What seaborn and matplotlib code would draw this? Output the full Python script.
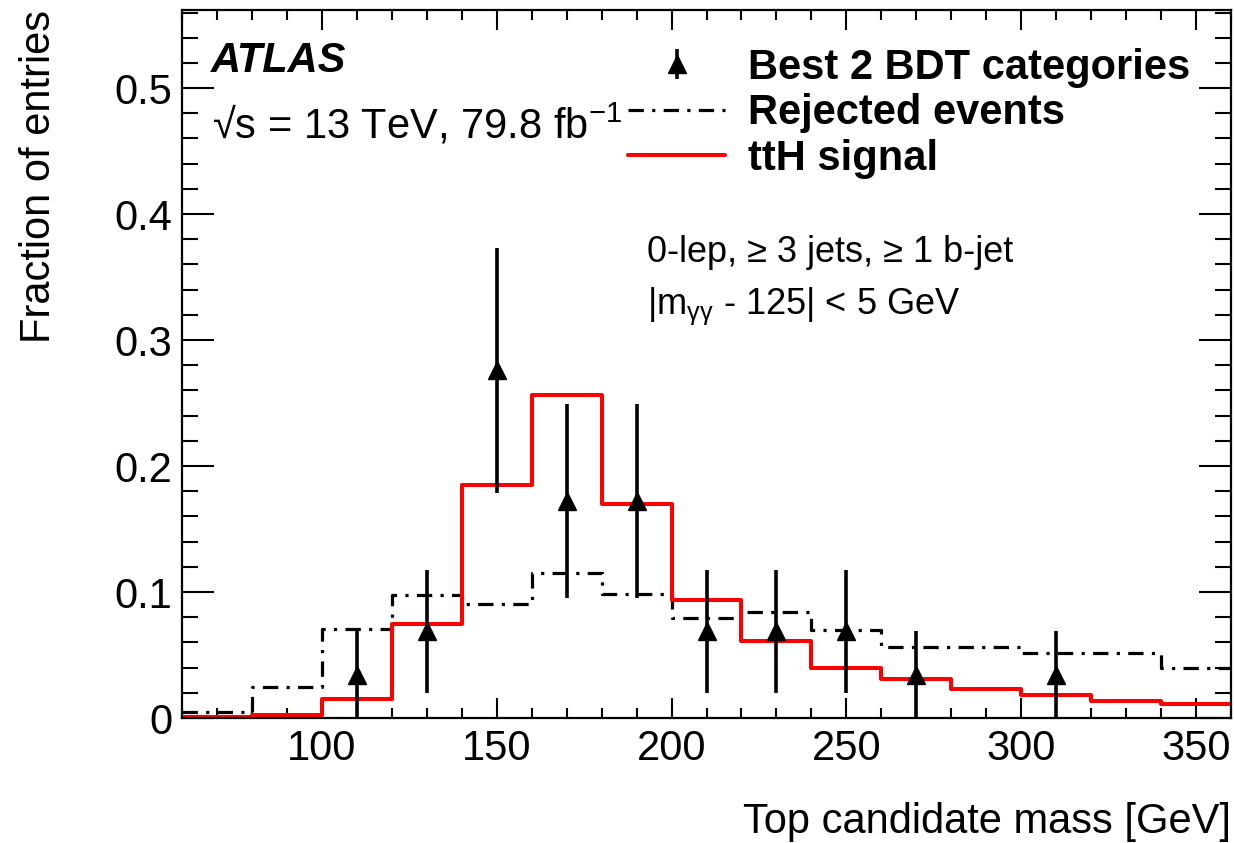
import numpy as np
import pandas as pd
import matplotlib
matplotlib.use("Agg")
import matplotlib.pyplot as plt
from matplotlib.ticker import MultipleLocator, FuncFormatter
from matplotlib.legend_handler import HandlerErrorbar
from matplotlib.container import ErrorbarContainer
import seaborn as sns

# Binning of the top-candidate mass (GeV)
bin_edges = [60, 80, 100, 120, 140, 160, 180, 200, 220, 240, 260, 280, 300, 320, 340, 360]
bin_centers = [70, 90, 110, 130, 150, 170, 190, 210, 230, 250, 270, 290, 310, 330, 350]

# Normalised distributions (fraction of entries per bin)
signal_frac = [0.0005, 0.002, 0.015, 0.075, 0.185, 0.256, 0.170, 0.094,
               0.061, 0.040, 0.031, 0.023, 0.018, 0.0133, 0.011]
rejected_frac = [0.005, 0.025, 0.071, 0.098, 0.0905, 0.115, 0.0987, 0.079,
                 0.084, 0.070, 0.056, 0.056, 0.0515, 0.0515, 0.040]

# Selected events in the best two BDT categories
data_mass = [110, 130, 150, 170, 190, 210, 230, 250, 270, 310]
data_counts = [1, 2, 8, 5, 5, 2, 2, 2, 1, 1]
data_total = 29

data_frac = np.array(data_counts) / data_total
data_err = np.sqrt(np.array(data_counts)) / data_total

sns.set_theme(style="ticks")
plt.rcParams["font.family"] = ["Liberation Sans", "DejaVu Sans"]
plt.rcParams["mathtext.fontset"] = "custom"
plt.rcParams["mathtext.rm"] = "Liberation Sans"
plt.rcParams["mathtext.it"] = "Liberation Sans:italic"
plt.rcParams["mathtext.bf"] = "Liberation Sans:bold"
for key in ["text.color", "axes.labelcolor", "xtick.color", "ytick.color", "axes.edgecolor"]:
    plt.rcParams[key] = "black"

fig = plt.figure(figsize=(12.34, 8.43), dpi=100)
ax = fig.add_axes([182 / 1234, 125 / 843, 1049 / 1234, 708 / 843])

hist_df = pd.DataFrame({"mass": bin_centers, "signal": signal_frac, "rejected": rejected_frac})

n0 = len(ax.lines)
sns.histplot(data=hist_df, x="mass", weights="rejected", bins=bin_edges,
             element="step", fill=False, color="black", linewidth=2.3, ax=ax)
rej_line = ax.lines[n0]
rej_line.set_linestyle((0, (4.8, 2.6, 1.0, 2.6)))
rej_line.set_label("Rejected events")

n1 = len(ax.lines)
sns.histplot(data=hist_df, x="mass", weights="signal", bins=bin_edges,
             element="step", fill=False, color="#ff0000", linewidth=2.9, ax=ax)
sig_line = ax.lines[n1]
sig_line.set_label("ttH signal")

eb = ax.errorbar(data_mass, data_frac, yerr=data_err, fmt="^", color="black",
                 ms=12.7, elinewidth=2.6, capsize=0, zorder=5,
                 label="Best 2 BDT categories")

ax.set_xlim(60, 360)
ax.set_ylim(0, 0.562)

ax.xaxis.set_major_locator(MultipleLocator(50))
ax.xaxis.set_minor_locator(MultipleLocator(10))
ax.yaxis.set_major_locator(MultipleLocator(0.1))
ax.yaxis.set_minor_locator(MultipleLocator(0.02))
ax.xaxis.set_major_formatter(FuncFormatter(lambda v, p: f"{v:g}"))
ax.yaxis.set_major_formatter(FuncFormatter(lambda v, p: f"{v:g}"))

ax.tick_params(which="both", direction="in", top=True, right=True, width=1.5,
               labelsize=30)
ax.tick_params(axis="x", which="major", length=14.5, pad=8)
ax.tick_params(axis="x", which="minor", length=7.2)
ax.tick_params(axis="y", which="major", length=23, pad=7)
ax.tick_params(axis="y", which="minor", length=11.5)
for sp in ax.spines.values():
    sp.set_linewidth(1.6)
    sp.set_color("black")

ax.set_xlabel("Top candidate mass [GeV]", loc="right", fontsize=30, labelpad=24)
ax.set_ylabel("Fraction of entries", loc="top", fontsize=30, labelpad=40)

ax.text(0.0276, 0.912, "ATLAS", transform=ax.transAxes, fontsize=30,
        fontweight="bold", fontstyle="italic", va="baseline", ha="left")
ax.text(0.029, 0.819, "\u221As = 13 TeV, 79.8 fb$^{\\mathrm{-1}}$",
        transform=ax.transAxes, fontsize=30, va="baseline", ha="left")
ax.text(0.443, 0.644, "0-lep, \u2265 3 jets, \u2265 1 b-jet", transform=ax.transAxes,
        fontsize=26, va="baseline", ha="left")
ax.text(0.443, 0.571, r"|m$_{\mathrm{\gamma\gamma}}$ - 125| < 5 GeV", transform=ax.transAxes,
        fontsize=26, va="baseline", ha="left")

order = [eb, rej_line, sig_line]
labels = ["Best 2 BDT categories", "Rejected events", "ttH signal"]
ax.legend(order, labels, loc="upper left", bbox_to_anchor=(0.4252, 0.947),
          frameon=False, prop={"weight": "bold", "size": 30},
          handlelength=2.33, handletextpad=0.55, labelspacing=0.135,
          borderaxespad=0, borderpad=0,
          handler_map={ErrorbarContainer: HandlerErrorbar(yerr_size=0.37)})

fig.savefig("out.png", dpi=100)
